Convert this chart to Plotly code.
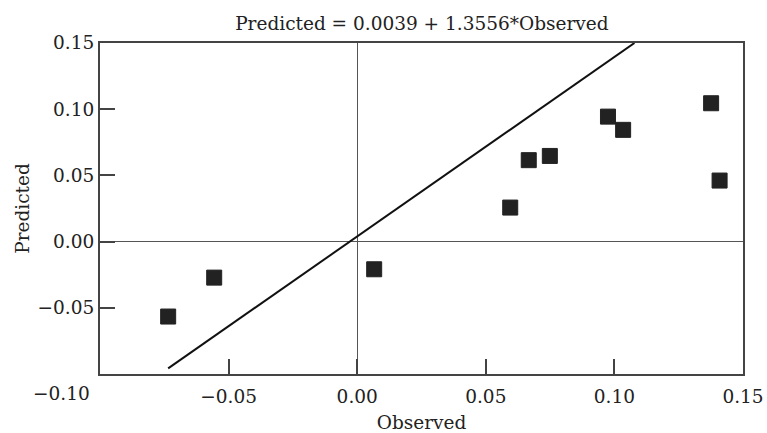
import plotly.graph_objects as go

# Data
observed = [-0.0735, -0.0556, 0.0066, 0.0595, 0.0667, 0.0749, 0.0975, 0.1034, 0.1376, 0.1409]
predicted = [-0.0566, -0.0272, -0.0209, 0.0257, 0.0615, 0.0647, 0.0944, 0.0844, 0.1045, 0.0461]

intercept = 0.0039
slope = 1.3556
line_x = [-0.0735, 0.1078]

x_tickvals = [-0.10, -0.05, 0.00, 0.05, 0.10, 0.15]
x_ticktext = ["", "−0.05", "0.00", "0.05", "0.10", "0.15"]
y_tickvals = [-0.10, -0.05, 0.00, 0.05, 0.10, 0.15]
y_ticktext = ["", "−0.05", "0.00", "0.05", "0.10", "0.15"]

FONT = "DejaVu Serif"
FS = 18.5
TXT = "#222222"
AX = "#444444"

line_y = [intercept + slope * v for v in line_x]

fig = go.Figure()
fig.add_trace(go.Scatter(
    x=line_x, y=line_y, mode="lines",
    line=dict(color="#111111", width=2), showlegend=False, hoverinfo="skip"))
fig.add_trace(go.Scatter(
    x=observed, y=predicted, mode="markers",
    marker=dict(symbol="square", size=15, color="#222222",
                line=dict(color="#222222", width=1)),
    showlegend=False))

fig.update_layout(
    width=767, height=433,
    margin=dict(l=100, r=24, t=43, b=59),
    paper_bgcolor="white", plot_bgcolor="white",
    font=dict(family=FONT, size=FS, color=TXT),
    title=dict(text="Predicted = 0.0039 + 1.3556*Observed",
               x=0.55, xanchor="center", y=1 - 24 / 433, yanchor="middle",
               font=dict(family=FONT, size=FS, color=TXT)),
    annotations=[dict(text="−0.10", xref="paper", yref="paper",
                      x=-8 / 643, y=-19 / 331, xanchor="right", yanchor="middle",
                      showarrow=False, font=dict(family=FONT, size=FS, color=TXT))],
)

fig.update_xaxes(
    range=[-0.10, 0.15], tickvals=x_tickvals, ticktext=x_ticktext,
    ticks="inside", ticklen=15, tickwidth=1.5, tickcolor=AX,
    showline=True, linecolor=AX, linewidth=2, mirror=True,
    showgrid=False, zeroline=True, zerolinecolor="#555555", zerolinewidth=1,
    ticklabelstandoff=5, automargin=False,
    title=dict(text="Observed", font=dict(family=FONT, size=FS, color=TXT), standoff=12),
    tickfont=dict(family=FONT, size=FS, color=TXT),
)
fig.update_yaxes(
    range=[-0.10, 0.15], tickvals=y_tickvals, ticktext=y_ticktext,
    ticks="inside", ticklen=15, tickwidth=1.5, tickcolor=AX,
    showline=True, linecolor=AX, linewidth=2, mirror=True,
    showgrid=False, zeroline=True, zerolinecolor="#555555", zerolinewidth=1,
    automargin=False,
    title=dict(text="Predicted", font=dict(family=FONT, size=FS, color=TXT), standoff=3),
    tickfont=dict(family=FONT, size=FS, color=TXT),
)

fig.write_html("out.html")
